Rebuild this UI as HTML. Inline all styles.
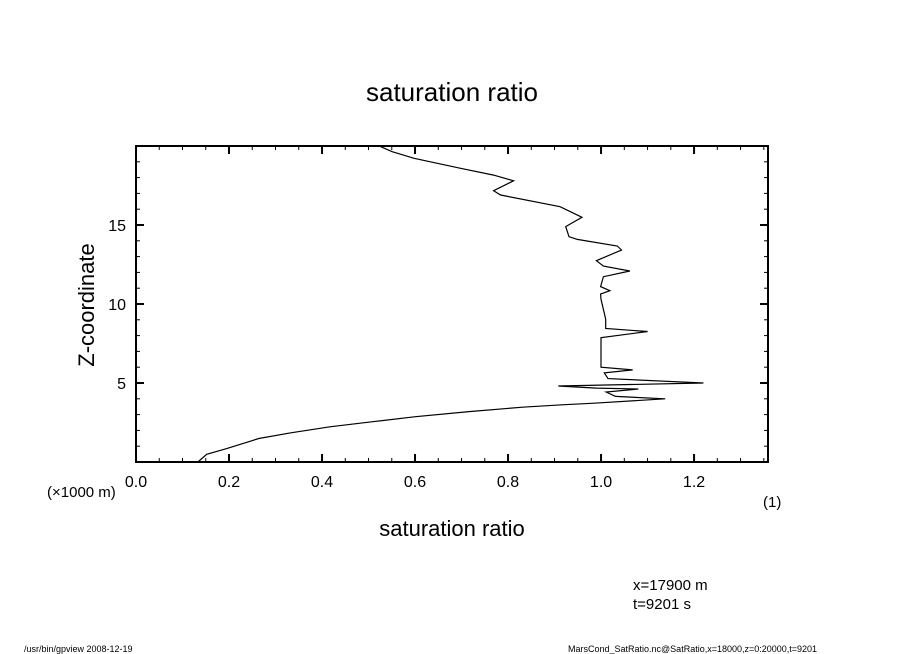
<!DOCTYPE html>
<html><head><meta charset="utf-8"><style>
body{margin:0;background:#fff;}
svg{display:block;font-family:"Liberation Sans",sans-serif;}
</style></head><body>
<svg id="chart" width="904" height="654" viewBox="0 0 904 654">
<rect x="0" y="0" width="904" height="654" fill="#fff"/>
<text x="452" y="101" font-size="26" text-anchor="middle">saturation ratio</text>
<g id="axes"></g>
<path id="curve" fill="none" stroke="#000" stroke-width="1.2"/>
<text x="452" y="536" font-size="22" text-anchor="middle">saturation ratio</text>
<text transform="translate(94,305) rotate(-90)" font-size="22" text-anchor="middle">Z-coordinate</text>
<text x="47" y="497" font-size="15">(×1000 m)</text>
<text x="763" y="507" font-size="15">(1)</text>
<text x="633" y="590" font-size="15">x=17900 m</text>
<text x="633" y="609" font-size="15">t=9201 s</text>
<text x="24" y="652" font-size="9">/usr/bin/gpview   2008-12-19</text>
<text x="568" y="652" font-size="9">MarsCond_SatRatio.nc@SatRatio,x=18000,z=0:20000,t=9201</text>
</svg>
<script>
const xTickLabels = ["0.0","0.2","0.4","0.6","0.8","1.0","1.2"];
const xTickValues = [0,0.2,0.4,0.6,0.8,1.0,1.2];
const yTickLabels = ["5","10","15"];
const yTickValues = [5,10,15];
const ratioValues = [0.133,0.152,0.195,0.264,0.333,0.417,0.509,0.601,0.716,0.831,0.916,0.985,1.138,1.031,1.011,1.08,0.99,0.908,1.22,1.015,1.007,1.068,1.0,1.0,1.1,1.01,1.01,1.0,0.999,0.999,1.019,0.999,1.005,1.062,1.005,0.99,1.044,1.035,0.949,0.931,0.924,0.959,0.912,0.784,0.769,0.812,0.769,0.698,0.598,0.551,0.523];
const heightValues = [0,0.49,0.85,1.49,1.85,2.23,2.55,2.87,3.19,3.47,3.62,3.72,4.0,4.15,4.43,4.62,4.68,4.81,5.0,5.28,5.64,5.83,6.0,7.87,8.26,8.45,9.04,10.3,10.63,10.63,10.84,11.1,11.73,12.09,12.4,12.74,13.42,13.67,14.09,14.26,14.9,15.49,16.16,16.9,17.17,17.8,18.16,18.59,19.22,19.64,20.0];

const L=136,R=768,T=146,B=462;
const xMin=0,xMax=1.359,yMin=0,yMax=20;
const xs=v=>L+(v-xMin)/(xMax-xMin)*(R-L);
const ys=v=>B-(v-yMin)/(yMax-yMin)*(B-T);
const NS="http://www.w3.org/2000/svg";
const axes=document.getElementById('axes');
function line(x1,y1,x2,y2,w,name){
  const l=document.createElementNS(NS,'line');
  l.setAttribute('x1',x1);l.setAttribute('y1',y1);l.setAttribute('x2',x2);l.setAttribute('y2',y2);
  l.setAttribute('stroke','#000');l.setAttribute('stroke-width',w);
  
  
  axes.appendChild(l);
}
const fr=document.createElementNS(NS,'rect');
fr.setAttribute('x',L);fr.setAttribute('y',T);fr.setAttribute('width',R-L);fr.setAttribute('height',B-T);
fr.setAttribute('fill','none');fr.setAttribute('stroke','#000');fr.setAttribute('stroke-width','2');


axes.appendChild(fr);
for(let i=0;i*0.05<=xMax+1e-9;i++){
  const v=i*0.05, x=xs(v), major=i%4===0, len=major?8:4;
  line(x,B,x,B-len,major?2:1,'x-tick');
  line(x,T,x,T+len,major?2:1,'x-tick-top');
}
for(let v=1;v<=yMax;v++){
  const y=ys(v), major=v%5===0, len=major?8:4;
  line(L,y,L+len,y,major?2:1,'y-tick');
  line(R,y,R-len,y,major?2:1,'y-tick-right');
}
xTickValues.forEach((v,i)=>{
  const t=document.createElementNS(NS,'text');
  t.setAttribute('x',xs(v));t.setAttribute('y',B+25);t.setAttribute('font-size','16');t.setAttribute('text-anchor','middle');
  t.textContent=xTickLabels[i];
  
  
  axes.appendChild(t);
});
yTickValues.forEach((v,i)=>{
  const t=document.createElementNS(NS,'text');
  t.setAttribute('x',L-10);t.setAttribute('y',ys(v)+6);t.setAttribute('font-size','16');t.setAttribute('text-anchor','end');
  t.textContent=yTickLabels[i];
  
  
  axes.appendChild(t);
});
let d='';
ratioValues.forEach((v,i)=>{d+=(i?'L':'M')+xs(v).toFixed(1)+','+ys(heightValues[i]).toFixed(1);});
document.getElementById('curve').setAttribute('d',d);
</script>
</body></html>
